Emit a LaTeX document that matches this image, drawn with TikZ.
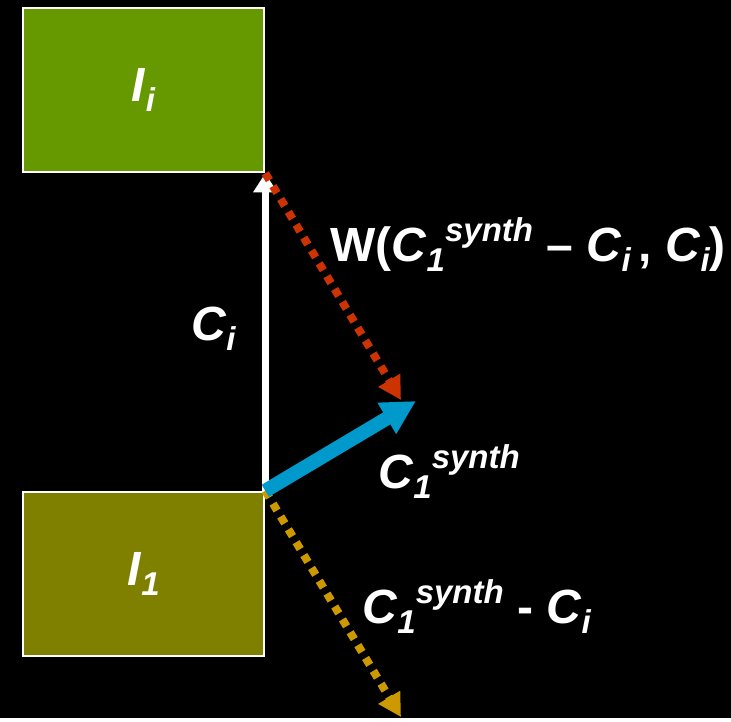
\documentclass[tikz,border=0pt]{standalone}
\usepackage{fontspec}
\setmainfont{Liberation Sans}
\usetikzlibrary{arrows.meta}

\definecolor{boxgreen}{HTML}{669900}
\definecolor{boxolive}{HTML}{808000}
\definecolor{arrred}{HTML}{CC3300}
\definecolor{arrblue}{HTML}{0099CC}
\definecolor{arrorange}{HTML}{CC9900}

% small raised and lowered indices
\newcommand{\lowidx}[1]{\raisebox{-0.22em}{\fontsize{33}{33}\selectfont\itshape #1}}
\newcommand{\highidx}[1]{\raisebox{0.4em}{\fontsize{33}{33}\selectfont\itshape #1}}

\begin{document}
\begin{tikzpicture}[
  x=1pt,y=-1pt,
  imgbox/.style={draw=white,line width=2.5pt,minimum width=241pt,minimum height=164pt,inner sep=0pt},
  lbl/.style={text=white,inner sep=0pt,font=\fontsize{48}{52}\selectfont\bfseries},
  dotted arrow/.style={line width=8pt,dash pattern=on 8pt off 7pt,-{Triangle[length=23pt,width=24pt]}}
]
  \fill[black] (0,0) rectangle (731,718);

  \node[imgbox,fill=boxgreen] (image-i) at (143.5,90) {};
  \node[imgbox,fill=boxolive] (image-one) at (143.5,574) {};
  \node[lbl] (image-i-text) at (image-i.center) {\textit{I}\lowidx{i}};
  \node[lbl] (image-one-text) at (image-one.center) {\textit{I}\lowidx{1}};

  \coordinate (weighted-end) at (401,400);
  \coordinate (synth-end) at (416,401);
  \coordinate (diff-end) at (401,717);

  \draw[white,line width=6.5pt,-{Triangle[length=19pt,width=23pt]}]
    (image-one.north east) -- (image-i.south east);
  \draw[arrred,dotted arrow] (image-i.south east) -- (weighted-end);
  \draw[arrorange,dotted arrow] (image-one.north east) -- (diff-end);
  \draw[arrblue,line width=14pt,-{Triangle[length=34pt,width=34pt]}]
    (image-one.north east) -- (synth-end);

  \node[lbl,anchor=base west] (ci-label) at (191,340) {\textit{C}\lowidx{i}};
  \node[lbl,anchor=base west] (weight-label) at (330,261)
    {W(\textit{C}\lowidx{1}\highidx{synth} -- \textit{C}\lowidx{i}\,, \textit{C}\lowidx{i})};
  \node[lbl,anchor=base west] (synth-label) at (378,488) {\textit{C}\lowidx{1}\highidx{synth}};
  \node[lbl,anchor=base west] (diff-label) at (362,623)
    {\textit{C}\lowidx{1}\highidx{synth} - \textit{C}\lowidx{i}};
\end{tikzpicture}
\end{document}
